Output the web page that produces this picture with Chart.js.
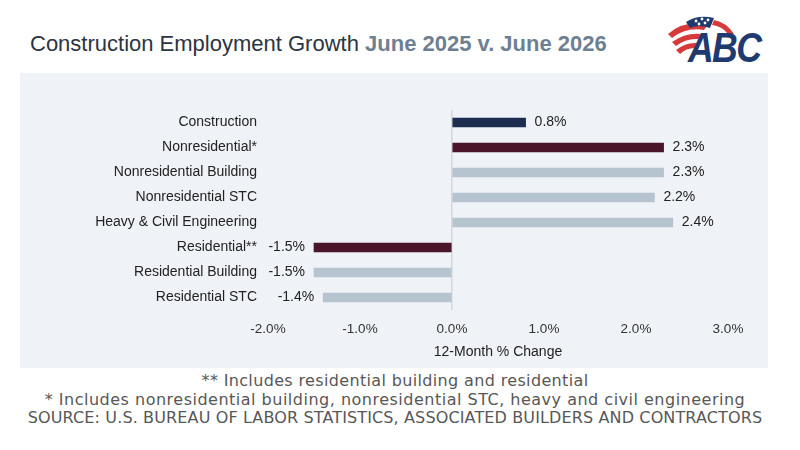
<!DOCTYPE html>
<html><head><meta charset="utf-8">
<script src="https://cdn.jsdelivr.net/npm/chart.js@4/dist/chart.umd.min.js"></script>
<style>
html,body{margin:0;padding:0;background:#fff;width:800px;height:450px;overflow:hidden;}
#title{position:absolute;left:30px;top:31px;font-family:"Liberation Sans",Arial,sans-serif;font-size:22px;color:#2b3442;white-space:nowrap;}
#title b{color:#6e7f92;}
#panel{position:absolute;left:20px;top:73px;width:748px;height:295px;background:#eff2f6;}
#notes{position:absolute;left:0;top:372px;width:790px;text-align:center;font-family:"DejaVu Sans",sans-serif;font-size:16px;line-height:18.5px;color:#575757;}
#notes div{white-space:nowrap;}
#n1{letter-spacing:0.35px;}
#n2{letter-spacing:0.5px;}
#n3{letter-spacing:0.13px;}
#logo{position:absolute;left:664px;top:12px;}
</style></head><body>
<div id="title">Construction Employment Growth <b>June 2025 v. June 2026</b></div>
<svg id="logo" width="100" height="56" viewBox="0 0 100 56">
  <path d="M4 22 Q20 8 44 12 L40 18 Q22 15 8 26 Z" fill="#d63a3a"/>
  <path d="M8 30 Q22 20 38 22 L35 27 Q22 26 12 34 Z" fill="#d63a3a"/>
  <path d="M12 38 Q22 30 33 31 L31 36 Q22 36 16 42 Z" fill="#d63a3a"/>
  <path d="M22 10 Q34 2 50 6 L46 16 Q34 12 26 16 Z" fill="#1f3a6e"/>
  <circle cx="32" cy="9" r="1.4" fill="#fff"/><circle cx="38" cy="7" r="1.4" fill="#fff"/><circle cx="44" cy="8" r="1.4" fill="#fff"/><circle cx="35" cy="12" r="1.4" fill="#fff"/><circle cx="41" cy="11" r="1.4" fill="#fff"/>
  <path d="M50 8 Q62 10 70 22 L64 22 Q58 14 48 13 Z" fill="#d63a3a"/>
  <text x="0" y="0" transform="translate(24,50) scale(0.85,1)" font-family="Liberation Sans,Arial" font-weight="bold" font-style="italic" font-size="42" fill="#1f3a6e" letter-spacing="-2">ABC</text>
</svg>
<div id="panel"><canvas id="c" width="748" height="295"></canvas></div>
<div id="notes"><div id="n1">** Includes residential building and residential</div><div id="n2">* Includes nonresidential building, nonresidential STC, heavy and civil engineering</div><div id="n3">SOURCE: U.S. BUREAU OF LABOR STATISTICS, ASSOCIATED BUILDERS AND CONTRACTORS</div></div>
<script>
const categories = ["Construction","Nonresidential*","Nonresidential Building","Nonresidential STC","Heavy & Civil Engineering","Residential**","Residential Building","Residential STC"];
const changes = [0.8, 2.3, 2.3, 2.2, 2.4, -1.5, -1.5, -1.4];
const barColors = ["#1c2d50","#4a1529","#b6c4d0","#b6c4d0","#b6c4d0","#4a1529","#b6c4d0","#b6c4d0"];
const xTicks = [-2, -1, 0, 1, 2, 3];
const axisTitle = "12-Month % Change";

const labelPlugin = {
  id: 'valueLabels',
  afterDatasetsDraw(chart) {
    const ctx = chart.ctx;
    const meta = chart.getDatasetMeta(0);
    ctx.save();
    ctx.font = '14px "Liberation Sans", Arial, sans-serif';
    ctx.fillStyle = '#222';
    ctx.textBaseline = 'middle';
    meta.data.forEach((bar, i) => {
      const v = changes[i];
      const txt = v.toFixed(1) + '%';
      if (v >= 0) { ctx.textAlign = 'left'; ctx.fillText(txt, bar.x + 9, bar.y); }
      else { ctx.textAlign = 'right'; ctx.fillText(txt, bar.x - 9, bar.y); }
    });
    ctx.restore();
  }
};

new Chart(document.getElementById('c'), {
  type: 'bar',
  data: { labels: categories, datasets: [{ data: changes, backgroundColor: barColors, barThickness: 9 }] },
  options: {
    indexAxis: 'y', responsive: false, animation: false,
    layout: { padding: { left: 0, right: 40, top: 37, bottom: 7 } },
    plugins: { legend: { display: false }, tooltip: { enabled: false } },
    scales: {
      x: {
        min: -2, max: 3,
        afterBuildTicks: s => { s.ticks = xTicks.map(v => ({ value: v })); },
        afterFit: s => { s.height = 51; },
        ticks: { callback: v => v.toFixed(1) + '%', font: { family: '"Liberation Sans", Arial, sans-serif', size: 13.5 }, color: '#333', padding: 11 },
        grid: { drawTicks: false, color: ctx => (ctx.tick && ctx.tick.value === 0) ? '#d3d8de' : 'transparent', lineWidth: 1.5 },
        border: { display: false },
        title: { display: true, text: axisTitle, font: { family: '"Liberation Sans", Arial, sans-serif', size: 14 }, color: '#222', padding: { top: 4, bottom: 0 } }
      },
      y: {
        afterFit: s => { s.width = 248; },
        ticks: { font: { family: '"Liberation Sans", Arial, sans-serif', size: 14 }, color: '#222', padding: 11 },
        grid: { display: false, drawTicks: false }, border: { display: false }
      }
    }
  },
  plugins: [labelPlugin]
});
</script>
</body></html>
